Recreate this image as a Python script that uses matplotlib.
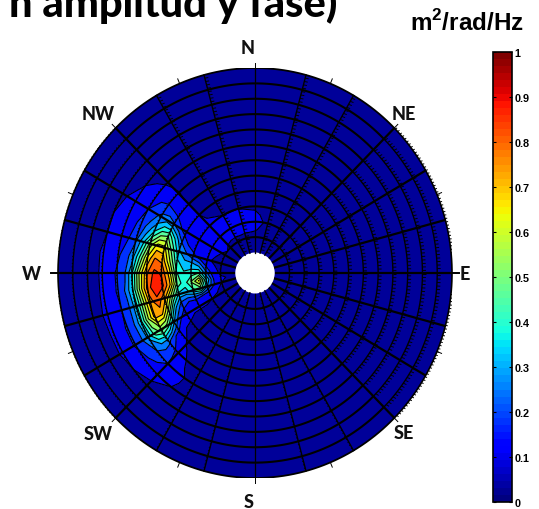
import numpy as np
import matplotlib
matplotlib.use("Agg")
import matplotlib.pyplot as plt
from matplotlib.collections import LineCollection
from matplotlib.cm import ScalarMappable
from matplotlib.colors import Normalize
from matplotlib.patches import Ellipse

plt.rcParams['mathtext.fontset'] = 'custom'
plt.rcParams['mathtext.bf'] = 'Liberation Sans:bold'
plt.rcParams['mathtext.rm'] = 'Liberation Sans:bold'

# ---- data -----------------------------------------------------------------
ring_index = [0, 1, 1.5, 2, 2.5, 3, 3.5, 4, 4.5, 5, 5.5, 6, 6.5, 7, 7.5, 8, 9, 10, 11, 12]
quiet = [.02, .02, .02, .02, .02, .02, .02, .02, .02, .02, .02, .02, .02, .02, .02, .02, .02, .02, .015, .01]
dir_0 = quiet; dir_15 = quiet; dir_30 = quiet; dir_45 = quiet; dir_60 = quiet
dir_75 = [.02, .03, .05, .06, .05, .04, .03, .02, .02, .02, .02, .02, .02, .02, .02, .02, .02, .02, .015, .01]
dir_90 = [.03, .05, .075, .09, .08, .06, .04, .03, .02, .02, .02, .02, .02, .02, .02, .02, .02, .02, .015, .01]
dir_105 = [.03, .05, .08, .09, .09, .07, .05, .03, .03, .02, .02, .02, .02, .02, .02, .02, .02, .02, .015, .01]
dir_120 = [.03, .05, .08, .09, .09, .07, .05, .04, .03, .03, .03, .02, .02, .02, .02, .02, .02, .02, .015, .01]
dir_127 = [.03, .05, .08, .09, .09, .08, .06, .05, .04, .04, .03, .03, .02, .02, .02, .02, .02, .02, .015, .01]
dir_135 = [.03, .06, .08, .09, .09, .08, .075, .07, .07, .07, .07, .075, .07, .06, .05, .04, .02, .02, .015, .01]
dir_142 = [.04, .07, .08, .09, .09, .09, .08, .08, .09, .10, .12, .14, .13, .11, .09, .07, .04, .02, .02, .01]
dir_150 = [.04, .06, .08, .09, .09, .09, .09, .10, .15, .22, .26, .23, .18, .14, .11, .09, .06, .03, .02, .01]
dir_157 = [.04, .05, .07, .08, .09, .10, .13, .20, .34, .48, .44, .33, .23, .17, .12, .10, .07, .04, .02, .01]
dir_165 = [.04, .05, .06, .08, .11, .16, .22, .30, .47, .65, .66, .52, .33, .20, .14, .11, .07, .04, .02, .01]
dir_172 = [.04, .05, .08, .14, .26, .31, .31, .37, .57, .75, .78, .65, .44, .26, .17, .13, .08, .04, .02, .01]
dir_180 = [.04, .06, .10, .24, .42, .38, .36, .43, .68, .83, .86, .76, .57, .34, .20, .15, .08, .04, .02, .01]
dir_187 = [.05, .08, .14, .36, .64, .50, .38, .47, .72, .86, .90, .80, .59, .36, .22, .15, .08, .04, .02, .01]
dir_195 = [.05, .07, .14, .28, .46, .40, .32, .33, .52, .72, .82, .74, .53, .32, .20, .14, .08, .05, .02, .01]
dir_202 = [.04, .05, .08, .11, .14, .15, .14, .17, .30, .55, .73, .73, .55, .33, .21, .15, .08, .04, .02, .01]
dir_210 = [.04, .05, .06, .07, .08, .08, .08, .10, .15, .29, .46, .52, .45, .30, .20, .15, .08, .04, .02, .01]
dir_217 = [.03, .04, .05, .05, .05, .05, .05, .06, .07, .10, .15, .23, .24, .21, .16, .12, .07, .03, .02, .01]
dir_225 = [.03, .03, .04, .04, .04, .04, .04, .04, .05, .06, .08, .10, .13, .14, .12, .10, .05, .03, .02, .01]
dir_232 = [.02, .03, .03, .03, .03, .03, .03, .03, .03, .04, .05, .06, .07, .08, .08, .07, .04, .03, .02, .01]
dir_240 = [.02, .02, .02, .02, .02, .02, .02, .02, .03, .03, .04, .05, .05, .05, .04, .03, .02, .02, .015, .01]
directions = [0, 15, 30, 45, 60, 75, 90, 105, 120, 127.5, 135, 142.5, 150, 157.5, 165, 172.5, 180,
              187.5, 195, 202.5, 210, 217.5, 225, 232.5, 240, 255, 270, 285, 300, 315, 330, 345, 360]
spectrum = [dir_0, dir_15, dir_30, dir_45, dir_60, dir_75, dir_90, dir_105, dir_120, dir_127, dir_135,
            dir_142, dir_150, dir_157, dir_165, dir_172, dir_180, dir_187, dir_195, dir_202, dir_210,
            dir_217, dir_225, dir_232, dir_240, quiet, quiet, quiet, quiet, quiet, quiet, quiet, dir_0]
levels = [0, .07, .14, .21, .28, .35, .42, .49, .56, .63, .70, .77, .84, 1.0]
cbar_ticks = [0, .1, .2, .3, .4, .5, .6, .7, .8, .9, 1]
cbar_labels = ['0', '0.1', '0.2', '0.3', '0.4', '0.5', '0.6', '0.7', '0.8', '0.9', '1']
compass = ['N', 'NE', 'E', 'SE', 'S', 'SW', 'W', 'NW']
thick_spokes = [0, 15, 30, 45, 135, 150, 165, 180, 195, 210, 225, 315, 330, 345]
dashed_spokes = [60, 75, 105, 120, 240, 255, 285, 300]
plain_spokes = [90, 270]
outer_ticks = [90, 112.5, 135, 157.5, 202.5, 225, 247.5, 270, 292.5, 315, 337.5, 22.5, 45, 67.5]

# ---- figure layout --------------------------------------------------------
W, H = 539, 510
fig = plt.figure(figsize=(W / 100, H / 100), dpi=100)
px = lambda x, y: (x / W, 1 - y / H)
cx, cy, rx, ry = 255, 274, 197, 205
ax = fig.add_axes([(cx - rx) / W, 1 - (cy + ry) / H, 2 * rx / W, 2 * ry / H])
ax.set_xlim(-1, 1); ax.set_ylim(-1, 1); ax.axis('off')
R0, DR = 0.1, 0.075
NAVY = (0, 0, 0.6)


def radius(k):
    return R0 + DR * np.asarray(k, float)


def polar(r, deg):
    t = np.deg2rad(deg)
    return r * np.cos(t), r * np.sin(t)


jet = plt.get_cmap('jet', 64)
ax.add_patch(Ellipse((0, 0), 2, 2, fc=NAVY, ec='none', zorder=0))
T, K = np.meshgrid(directions, ring_index, indexing='ij')
Z = np.array(spectrum)
X, Y = polar(radius(K), T)
band_colors = [NAVY] + [plt.get_cmap('jet')(l + 0.035) for l in levels[1:-1]]
ax.contourf(X, Y, Z, levels=levels, colors=band_colors, zorder=1)
ax.contour(X, Y, Z, levels=levels[1:-1], colors='k', linewidths=0.8, zorder=2)
ax.add_patch(Ellipse((0, 0), 2 * R0, 2 * R0, fc='white', ec='none', zorder=3))


def hairy(xs, ys, lw=1.0, tick=0.012, step=0.017):
    """Thin line with the small hair ticks the reference shows."""
    ax.plot(xs, ys, color='k', lw=lw, zorder=4, clip_on=False)
    dx, dy = np.diff(xs), np.diff(ys)
    s = np.r_[0, np.cumsum(np.hypot(dx, dy))]
    q = np.arange(step, s[-1], step)
    qx, qy = np.interp(q, s, xs), np.interp(q, s, ys)
    i = np.clip(np.searchsorted(s, q) - 1, 0, len(dx) - 1)
    L = np.hypot(dx[i], dy[i])
    nx, ny = dy[i] / L, -dx[i] / L
    segs = [[(a, b), (a + tick * c + tick * 0.5, b + tick * d)] for a, b, c, d in zip(qx, qy, nx, ny)]
    ax.add_collection(LineCollection(segs, colors='k', linewidths=0.7, zorder=4))


# rings
for k in range(1, 13):
    r = radius(k)
    for a, b in [(45, 135), (225, 315)]:
        th = np.linspace(a, b, 60)
        ax.plot(*polar(r, th), color='k', lw=1.5 if k < 12 else 1.3, zorder=4, solid_capstyle='butt')
    for a, b in [(-45, 45), (135, 225)]:
        th = np.linspace(a, b, 60)
        if k < 12:
            hairy(*polar(r, th))
        else:
            hairy(*polar(r, th), lw=1.2, tick=0.008)

# spokes
for d in thick_spokes:
    ax.plot(*polar(np.array([R0, 1.0]), d), color='k', lw=1.6, zorder=5, solid_capstyle='butt')
for d in dashed_spokes:
    hairy(*polar(np.array([R0, 1.0]), d), lw=1.0)
for d in plain_spokes:
    ax.plot(*polar(np.array([R0, 1.0]), d), color='k', lw=0.9, zorder=5)

# little ticks outside the rim and the long W-E tick marks
for d in outer_ticks:
    ax.plot(*polar(np.array([1.0, 1.025]), d), color='k', lw=0.7, zorder=5, clip_on=False)
for d in [0, 180]:
    ax.plot(*polar(np.array([1.0, 1.035]), d), color='k', lw=1.4, zorder=5, clip_on=False)

# labels
label_pos = {'N': (248, 48), 'NE': (404, 114), 'E': (465, 275), 'SE': (404, 434),
             'S': (249, 503), 'SW': (98, 435), 'W': (31, 275), 'NW': (98, 115)}
for name in compass:
    fig.text(*px(*label_pos[name]), name, family='Lato', weight='black', fontsize=13,
             ha='center', va='center', color='#111111')

fig.text(*px(337, 17), 'n amplitud y fase)', family='Lato', weight='black', fontsize=30,
         ha='right', va='baseline', color='k')
fig.text(*px(467, 31), r'm$^{\mathbf{2}}$/rad/Hz', family='Liberation Sans', weight='bold',
         fontsize=17.5, ha='center', va='baseline', color='k')

# colour bar
cax = fig.add_axes([492.5 / W, 1 - 503 / H, 19.5 / W, 450 / H])
cb = fig.colorbar(ScalarMappable(Normalize(0, 1), jet), cax=cax)
cb.set_ticks(cbar_ticks, labels=cbar_labels)
cb.outline.set_linewidth(1.2)
cax.tick_params(axis='y', direction='in', left=True, right=True, length=2.5, width=0.8, pad=2,
                labelsize=7.8)
for t in cax.get_yticklabels():
    t.set_family('Liberation Sans'); t.set_weight('bold')

fig.savefig('out.png', dpi=100)
